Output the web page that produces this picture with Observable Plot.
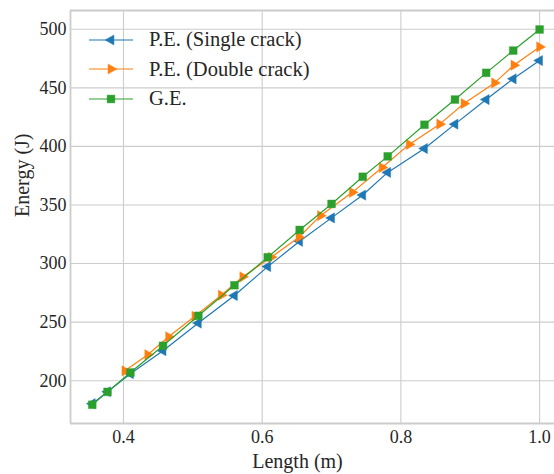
<!DOCTYPE html>
<html>
<head>
<meta charset="utf-8">
<script src="https://cdn.jsdelivr.net/npm/d3@7"></script>
<script src="https://cdn.jsdelivr.net/npm/@observablehq/plot@0.6"></script>
<style>
  html, body { margin: 0; padding: 0; background: white; }
  #wrap { position: relative; width: 554px; height: 474px; overflow: hidden; }
  #legend { position: absolute; left: 89px; top: 25px; font-family: "Liberation Serif", serif; font-size: 20.5px; color: #262626; }
  .row { display: flex; align-items: center; height: 29.5px; white-space: nowrap; }
  .row svg { display: block; margin-right: 16px; }
</style>
</head>
<body>
<div id="wrap"><div id="legend"></div></div>
<script>
// ---- data ----
const lengthBase = [0.355, 0.377, 0.41, 0.457, 0.508, 0.56, 0.608, 0.654, 0.70, 0.745, 0.781, 0.834, 0.878, 0.923, 0.962, 1.0];
const energySingle = [180.4, 190.6, 206, 225.6, 249.2, 272.7, 297.4, 319, 339, 358.5, 377.8, 398.2, 419, 440, 457.7, 473.3];
const energyGE = [179.5, 190.5, 207, 229.8, 255.4, 281.5, 305.4, 328.7, 350.9, 374.1, 391.5, 418.5, 440, 462.8, 481.8, 499.8];
const lengthDouble = [0.402, 0.435, 0.465, 0.503, 0.541, 0.572, 0.613, 0.653, 0.684, 0.73, 0.773, 0.812, 0.856, 0.891, 0.935, 0.963, 1.0];
const energyDouble = [208.5, 222.2, 237.5, 255, 273, 288.7, 305.4, 322.5, 340.9, 360.8, 382, 401.7, 419, 436.6, 454.2, 469.3, 484.9];
const seriesNames = ["P.E. (Single crack)", "P.E. (Double crack)", "G.E."];
const xTicks = [0.4, 0.6, 0.8, 1.0];
const yTicks = [200, 250, 300, 350, 400, 450, 500];
const xLabel = "Length (m)";
const yLabel = "Energy (J)";

// ---- styles ----
const colors = ["#1f77b4", "#ff7f0e", "#2ca02c"];
const symbols = ["triangle", "triangle", "square"];
const rotations = [-90, 90, 0];
const radii = [3.8, 3.8, 4.4];
const xDomain = [0.3236, 1.0215];
const yDomain = [163.5, 516];
const serif = "'Liberation Serif', serif";

const seriesData = [
  lengthBase.map((x, i) => ({x, y: energySingle[i]})),
  lengthDouble.map((x, i) => ({x, y: energyDouble[i]})),
  lengthBase.map((x, i) => ({x, y: energyGE[i]}))
];

const seriesMarks = seriesData.flatMap((data, k) => [
  Plot.line(data, {x: "x", y: "y", stroke: colors[k], strokeWidth: 1.2}),
  Plot.dot(data, {x: "x", y: "y", symbol: symbols[k], r: radii[k], rotate: rotations[k], fill: colors[k], stroke: colors[k], strokeWidth: 0.4})
]);

const chart = Plot.plot({
  width: 554,
  height: 474,
  marginLeft: 70,
  marginRight: 0,
  marginTop: 10,
  marginBottom: 51,
  style: {fontFamily: serif, fontSize: "18px", color: "#262626", background: "white", overflow: "visible"},
  x: {domain: xDomain, label: null},
  y: {domain: yDomain, label: null},
  marks: [
    Plot.gridX(xTicks, {stroke: "#cccccc", strokeOpacity: 1, strokeWidth: 1.1}),
    Plot.gridY(yTicks, {stroke: "#cccccc", strokeOpacity: 1, strokeWidth: 1.1}),
    Plot.ruleX([xDomain[0]], {stroke: "#cccccc", strokeWidth: 1.8}),
    Plot.ruleY(yDomain, {stroke: "#cccccc", strokeWidth: 1.8}),
    Plot.axisX(xTicks, {tickSize: 0, tickPadding: 7, tickFormat: d3.format(".1f"), label: null, fontSize: 18, fill: "#262626"}),
    Plot.axisY(yTicks, {tickSize: 0, tickPadding: 4, label: null, fontSize: 18, fill: "#262626"}),
    Plot.text([xLabel], {frameAnchor: "bottom", lineAnchor: "middle", text: d => d, dy: 38, dx: -15, fontSize: 20, fill: "#262626"}),
    Plot.text([yLabel], {frameAnchor: "left", lineAnchor: "middle", text: d => d, rotate: -90, dx: -48, fontSize: 20, fill: "#262626"}),
    ...seriesMarks
  ]
});
document.getElementById("wrap").prepend(chart);

// ---- legend (HTML overlay, upper left inside the axes) ----
const symMap = {triangle: d3.symbolTriangle, square: d3.symbolSquare};
const legend = d3.select("#legend");
seriesNames.forEach((name, k) => {
  const row = legend.append("div").attr("class", "row");
  const svg = row.append("svg").attr("width", 44).attr("height", 14);
  svg.append("line").attr("x1", 0).attr("x2", 44).attr("y1", 7).attr("y2", 7)
    .attr("stroke", colors[k]).attr("stroke-width", 1.2);
  svg.append("path")
    .attr("d", d3.symbol(symMap[symbols[k]], radii[k] * radii[k] * Math.PI)())
    .attr("transform", `translate(22,7) rotate(${rotations[k]})`)
    .attr("fill", colors[k]).attr("stroke", colors[k]).attr("stroke-width", 0.4);
  row.append("span").text(name);
});
</script>
</body>
</html>
